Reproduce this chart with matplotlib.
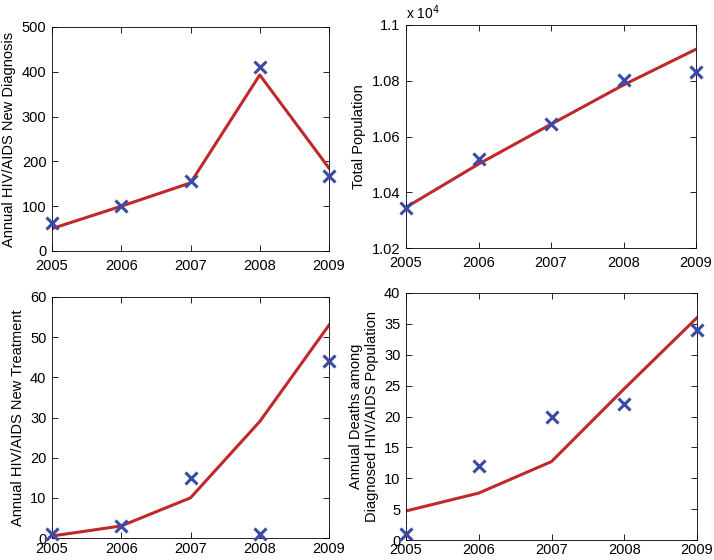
import matplotlib
matplotlib.use("Agg")
import matplotlib.pyplot as plt
from matplotlib.ticker import FuncFormatter

plt.rcParams['font.family'] = ['Liberation Sans', 'DejaVu Sans']
plt.rcParams['font.size'] = 10

years = [2005, 2006, 2007, 2008, 2009]

diag_obs = [62, 100, 157, 410, 167]
diag_fit = [50, 100, 152, 393, 185]

pop_obs = [10345, 10521, 10645, 10803, 10833]
pop_fit = [10346, 10501, 10644, 10785, 10913]

treat_obs = [1, 3, 15, 1, 44]
treat_fit = [0.5, 3, 10, 29, 53]

death_obs = [1, 12, 20, 22, 34]
death_fit = [4.7, 7.6, 12.7, 24.5, 36]

line_color = '#c0282a'
mark_color = '#3a4aa6'

W, H = 714, 560
fig = plt.figure(figsize=(W / 100, H / 100), dpi=100)

def rect(l, r, t, b):
    return [l / W, 1 - b / H, (r - l) / W, (b - t) / H]

panels = [
    (rect(52, 329, 27, 251), diag_obs, diag_fit, (0, 500), [0, 100, 200, 300, 400, 500],
     'Annual HIV/AIDS New Diagnosis', 6),
    (rect(406, 696, 25, 248), pop_obs, pop_fit, (10200, 11000), [10200, 10400, 10600, 10800, 11000],
     'Total Population', 6),
    (rect(52, 329, 297, 538), treat_obs, treat_fit, (0, 60), [0, 10, 20, 30, 40, 50, 60],
     'Annual HIV/AIDS New Treatment', 3),
    (rect(406, 697, 293, 540), death_obs, death_fit, (0, 40), [0, 5, 10, 15, 20, 25, 30, 35, 40],
     'Annual Deaths among\nDiagnosed HIV/AIDS Population', 2),
]

for i, (pos, obs, fit, ylim, yt, ylab, xpad) in enumerate(panels):
    ax = fig.add_axes(pos)
    ax.plot(years, fit, color=line_color, lw=2.2, zorder=2)
    ax.plot(years, obs, linestyle='none', marker='x', color=mark_color,
            markersize=9, markeredgewidth=2.2, zorder=3, clip_on=False)
    ax.set_xlim(2005, 2009)
    ax.set_ylim(*ylim)
    ax.set_xticks(years)
    ax.set_yticks(yt)
    ax.tick_params(direction='in', top=True, right=True, labelsize=10.5,
                   length=4, width=0.6)
    ax.tick_params(axis='x', pad=xpad)
    ax.tick_params(axis='y', pad=4)
    for s in ax.spines.values():
        s.set_linewidth(0.6)
    ax.set_ylabel(ylab, fontsize=10.5, labelpad=4, linespacing=1.1)
    if i == 1:
        ax.yaxis.set_major_formatter(FuncFormatter(lambda v, p: f"{v / 1e4:g}"))
        ax.text(0.0, 1.015, r'x 10$^{4}$', transform=ax.transAxes,
                fontsize=10, ha='left', va='bottom')

fig.savefig('out.png', dpi=100)
